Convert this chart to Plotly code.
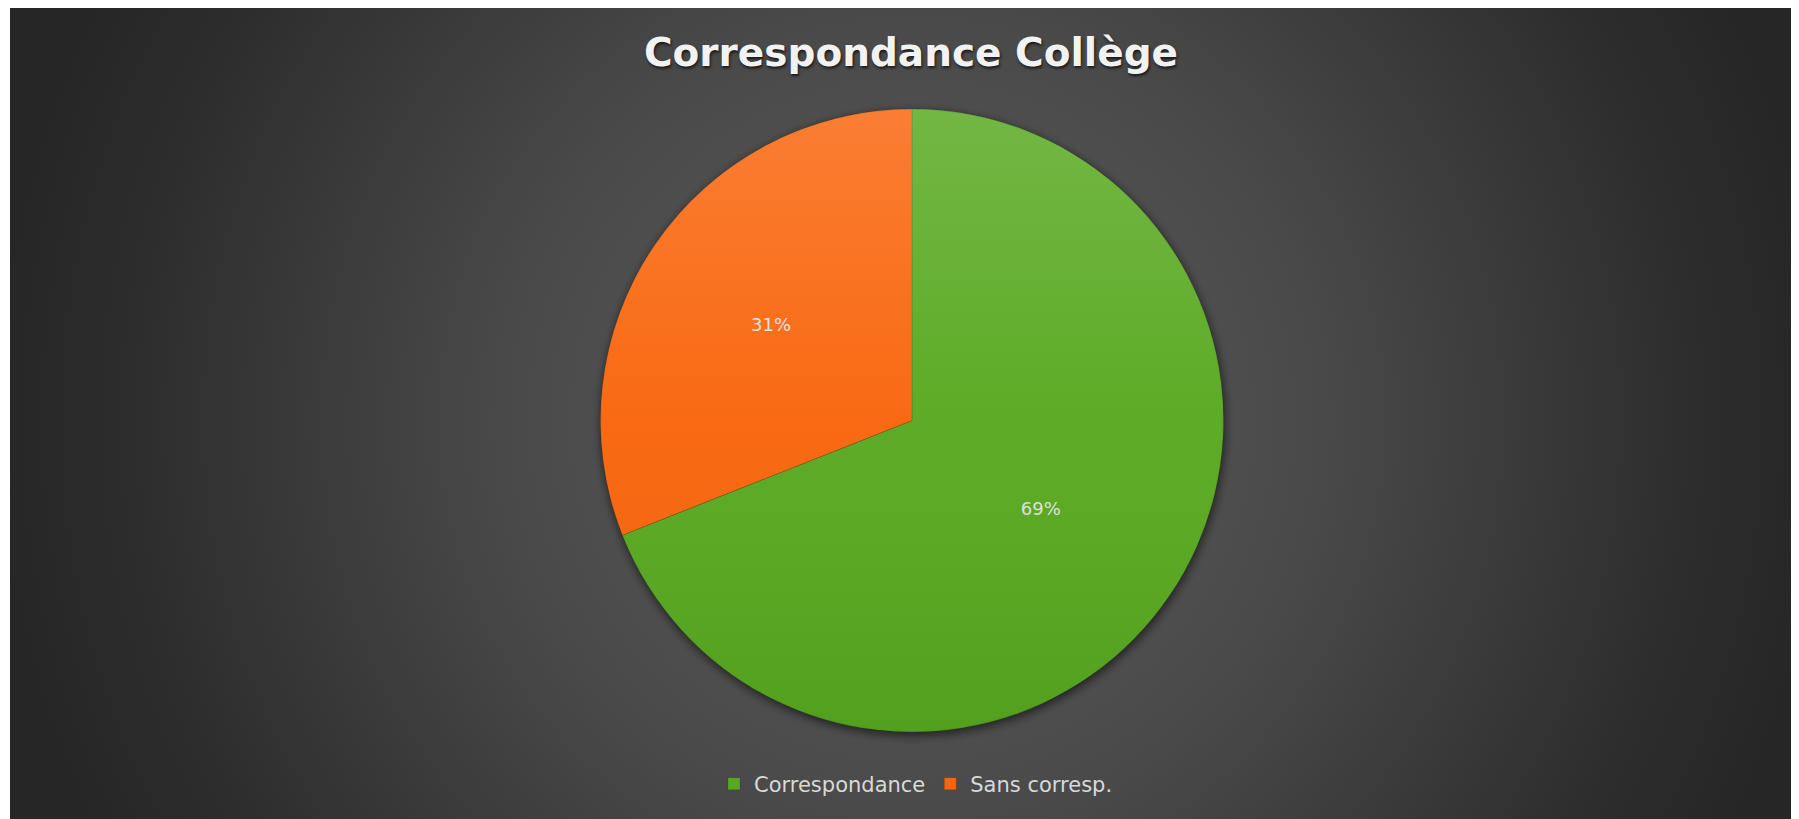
import base64
import plotly.graph_objects as go

# ---- data ----
labels = ["Correspondance", "Sans corresp."]
values = [69, 31]
colors = ["#58a920", "#f9650c"]
title_text = "Correspondance Collège"

# the page body has an 8px margin; figure fills the rest of the window
OFF = 8
W, H = 1799 - OFF, 819 - OFF


def px(x):
    return (x - OFF) / W


def py(y):
    return 1 - (y - OFF) / H


# pie geometry (reference page pixels -> paper fractions)
dom_x = [px(600), px(1224)]
dom_y = [py(732), py(109)]

# background: dark radial gradient with shadow of the pie
bg_x0 = 10 - OFF
bg_w, bg_h = W - bg_x0, H
cx, cy, r = 912 - 10, 420.5 - OFF, 311.5
bg_svg = f'''<svg xmlns="http://www.w3.org/2000/svg" width="{bg_w}" height="{bg_h}" viewBox="0 0 {bg_w} {bg_h}" preserveAspectRatio="none">
<defs>
<radialGradient id="g" gradientUnits="userSpaceOnUse" cx="{cx}" cy="{cy}" r="920">
<stop offset="0" stop-color="#595959"/>
<stop offset="0.25" stop-color="#525252"/>
<stop offset="0.45" stop-color="#494949"/>
<stop offset="0.65" stop-color="#3b3b3b"/>
<stop offset="0.85" stop-color="#2d2d2d"/>
<stop offset="1" stop-color="#262626"/>
</radialGradient>
<filter id="b" x="-20%" y="-20%" width="140%" height="140%"><feGaussianBlur stdDeviation="5"/></filter>
</defs>
<rect x="0" y="0" width="{bg_w}" height="{bg_h}" fill="url(#g)"/>
<circle cx="{cx + 1}" cy="{cy + 3}" r="{r + 1}" fill="#000" fill-opacity="0.55" filter="url(#b)"/>
</svg>'''
bg_src = "data:image/svg+xml;base64," + base64.b64encode(bg_svg.encode()).decode()

# light overlay to mimic the vertical shading of slices
ov_svg = '''<svg xmlns="http://www.w3.org/2000/svg" width="624" height="623" viewBox="0 0 624 623">
<defs><linearGradient id="l" x1="0" y1="0" x2="0" y2="1">
<stop offset="0" stop-color="#ffffff" stop-opacity="0.16"/>
<stop offset="0.5" stop-color="#ffffff" stop-opacity="0.03"/>
<stop offset="1" stop-color="#000000" stop-opacity="0.06"/>
</linearGradient></defs>
<circle cx="312" cy="311.5" r="311.5" fill="url(#l)"/>
</svg>'''
ov_src = "data:image/svg+xml;base64," + base64.b64encode(ov_svg.encode()).decode()

fig = go.Figure(
    go.Pie(
        labels=labels,
        values=values,
        sort=False,
        direction="clockwise",
        rotation=0,
        domain=dict(x=dom_x, y=dom_y),
        marker=dict(colors=colors, line=dict(color="rgba(0,0,0,0.12)", width=1)),
        texttemplate="%{percent:.0%}",
        textposition="inside",
        insidetextorientation="horizontal",
        insidetextfont=dict(family="DejaVu Sans", size=18, color="#e0e0e0"),
        hoverinfo="label+percent",
    )
)

fig.update_layout(
    width=W,
    height=H,
    margin=dict(l=0, r=0, t=0, b=0),
    paper_bgcolor="#ffffff",
    plot_bgcolor="#ffffff",
    title=dict(
        text="<b>" + title_text + "</b>",
        x=px(911),
        xanchor="center",
        xref="paper",
        y=py(52),
        yanchor="middle",
        yref="paper",
        font=dict(family="DejaVu Sans", size=39, color="#f2f2f2",
                  shadow="1px 2px 3px rgba(0,0,0,0.7)"),
    ),
    legend=dict(
        orientation="h",
        x=px(916),
        xanchor="center",
        y=py(784),
        yanchor="middle",
        font=dict(family="DejaVu Sans", size=21, color="#d9d9d9"),
        bgcolor="rgba(0,0,0,0)",
        itemwidth=30,
    ),
    images=[
        dict(source=bg_src, xref="paper", yref="paper", x=bg_x0 / W, y=1,
             sizex=bg_w / W, sizey=1, xanchor="left", yanchor="top",
             sizing="stretch", layer="below"),
        dict(source=ov_src, xref="paper", yref="paper", x=px(600), y=py(109),
             sizex=624 / W, sizey=623 / H, xanchor="left", yanchor="top",
             sizing="stretch", layer="above"),
    ],
)

fig.write_html(
    "out.html",
    post_script="document.documentElement.style.overflow='hidden';"
                "document.body.style.overflow='hidden';",
)
